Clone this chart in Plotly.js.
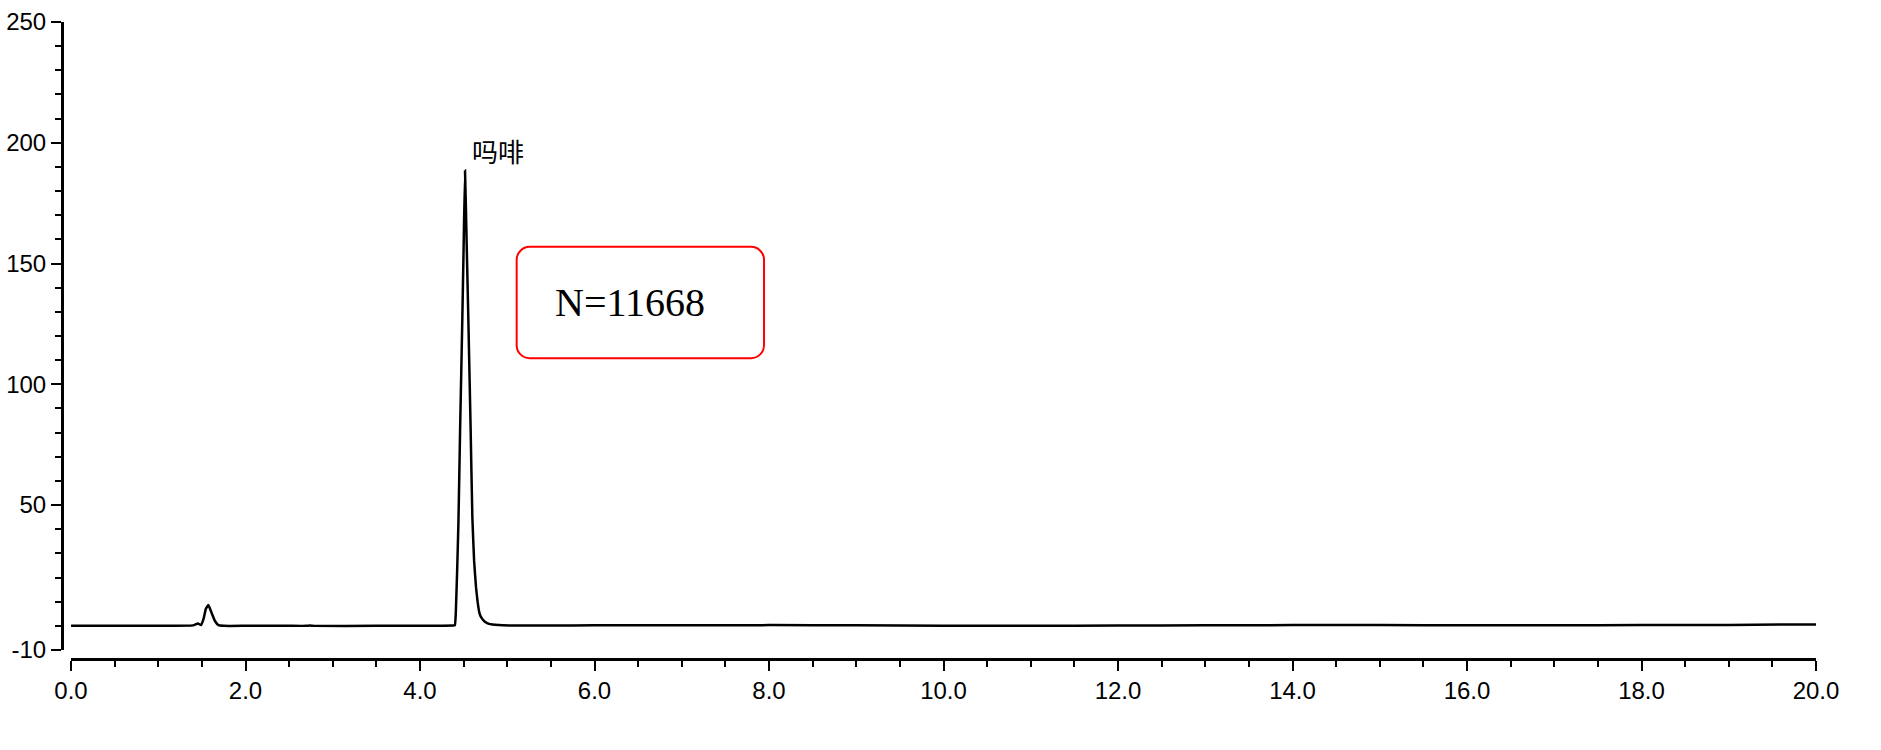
<!DOCTYPE html>
<html>
<head>
<meta charset="utf-8">
<script src="https://cdn.plot.ly/plotly-3.0.1.min.js"></script>
<style>html,body{margin:0;padding:0;background:#fff;}#chart{width:1881px;height:750px;}</style>
</head>
<body>
<div id="chart"></div>
<script>
// Retention time (min)
const time = [0.0, 0.5, 1.0, 1.40, 1.455, 1.49, 1.52, 1.545, 1.575, 1.61, 1.65, 1.69, 1.75, 2.0, 2.5, 2.70, 2.74, 2.78, 3.5, 4.38,
  4.40, 4.41, 4.425, 4.44, 4.46, 4.485, 4.50, 4.516, 4.535, 4.554, 4.58, 4.60, 4.62, 4.642, 4.66, 4.68, 4.70, 4.74, 4.79, 4.90,
  5.10, 5.5, 6.0, 7.0, 8.0, 9.0, 10.0, 11.0, 12.0, 13.0, 14.0, 15.0, 16.0, 17.0, 18.0, 19.0, 20.0];
// Detector signal
const signal = [0.0, 0.0, 0.0, 0.2, 1.0, 0.3, 3.0, 7.0, 8.6, 5.5, 2.0, 0.3, 0.0, 0.0, 0.0, 0.0, 0.15, 0.0, 0.0, 0.1,
  0.3, 5.0, 22.0, 42.0, 82.0, 127.0, 157.0, 188.5, 158.0, 127.0, 82.0, 45.0, 27.0, 16.0, 10.0, 5.5, 3.6, 1.8, 0.8, 0.3,
  0.1, 0.1, 0.2, 0.2, 0.3, 0.2, 0.0, 0.0, 0.1, 0.2, 0.3, 0.3, 0.2, 0.2, 0.3, 0.4, 0.6];

const yTickVals = [-10, 50, 100, 150, 200, 250];
const yMinorVals = [0, 10, 20, 30, 40, 60, 70, 80, 90, 110, 120, 130, 140, 160, 170, 180, 190, 210, 220, 230, 240];

const peakName = "吗啡";
const peakLabelPos = [4.57, 197];
const plateText = "N=11668";
const plateTextPos = [6.41, 134];
const boxX = [5.108, 7.943];
const boxY = [110.8, 156.9];

const W = 1881, H = 750;
const mL = 62, mR = 65, mT = 22, mB = 91;
const plotW = W - mL - mR, plotH = H - mT - mB;

// rounded rectangle (data coords)
const rx = 13 / ((plotW - 9) / 20);
const ry = 13 / ((plotH - 9) / 260);
const k = 0.552;
const [x0, x1] = boxX, [y0, y1] = boxY;
const boxPath = `M ${x0 + rx},${y1} L ${x1 - rx},${y1} C ${x1 - rx + k * rx},${y1} ${x1},${y1 - ry + k * ry} ${x1},${y1 - ry} ` +
  `L ${x1},${y0 + ry} C ${x1},${y0 + ry - k * ry} ${x1 - rx + k * rx},${y0} ${x1 - rx},${y0} ` +
  `L ${x0 + rx},${y0} C ${x0 + rx - k * rx},${y0} ${x0},${y0 + ry - k * ry} ${x0},${y0 + ry} ` +
  `L ${x0},${y1 - ry} C ${x0},${y1 - ry + k * ry} ${x0 + rx - k * rx},${y1} ${x0 + rx},${y1} Z`;

const tickFont = {family: "Liberation Sans, Arial, sans-serif", size: 24, color: "#000"};

const data = [{
  x: time, y: signal, type: "scatter", mode: "lines",
  line: {color: "#000", width: 2.5, shape: "spline", smoothing: 0.3},
  hoverinfo: "skip"
}];

const layout = {
  width: W, height: H,
  margin: {l: mL, r: mR, t: mT, b: mB, pad: 0},
  paper_bgcolor: "#fff", plot_bgcolor: "#fff",
  showlegend: false,
  xaxis: {
    domain: [9 / plotW, 1], range: [0, 20], anchor: "free", position: 0,
    showline: true, linecolor: "#000", linewidth: 2.5, mirror: false,
    showgrid: false, zeroline: false,
    tickmode: "linear", tick0: 0, dtick: 2, tickformat: ".1f",
    ticks: "outside", ticklen: 10, tickwidth: 2, tickcolor: "#000",
    minor: {tickmode: "linear", tick0: 0, dtick: 0.5, ticks: "outside", ticklen: 6, tickwidth: 2, tickcolor: "#000", showgrid: false},
    tickfont: tickFont
  },
  yaxis: {
    domain: [9 / plotH, 1], range: [-10, 250], anchor: "free", position: 0,
    showline: true, linecolor: "#000", linewidth: 2.5,
    showgrid: false, zeroline: false,
    tickmode: "array", tickvals: yTickVals, ticktext: yTickVals.map(String),
    ticks: "outside", ticklen: 10, tickwidth: 2, tickcolor: "#000",
    minor: {tickmode: "array", tickvals: yMinorVals, ticks: "outside", ticklen: 6, tickwidth: 2, tickcolor: "#000", showgrid: false},
    tickfont: tickFont
  },
  shapes: [{
    type: "path", xref: "x", yref: "y", path: boxPath,
    line: {color: "#ff0000", width: 2}, fillcolor: "rgba(0,0,0,0)"
  }],
  annotations: [
    {x: peakLabelPos[0], y: peakLabelPos[1], xref: "x", yref: "y", text: peakName, showarrow: false,
     xanchor: "left", yanchor: "middle",
     font: {family: "Noto Sans CJK SC, sans-serif", size: 26, color: "#000"}},
    {x: plateTextPos[0], y: plateTextPos[1], xref: "x", yref: "y", text: plateText, showarrow: false,
     xanchor: "center", yanchor: "middle",
     font: {family: "Liberation Serif, Times New Roman, serif", size: 40, color: "#000"}}
  ]
};

Plotly.newPlot("chart", data, layout, {staticPlot: true, displayModeBar: false});
</script>
</body>
</html>
